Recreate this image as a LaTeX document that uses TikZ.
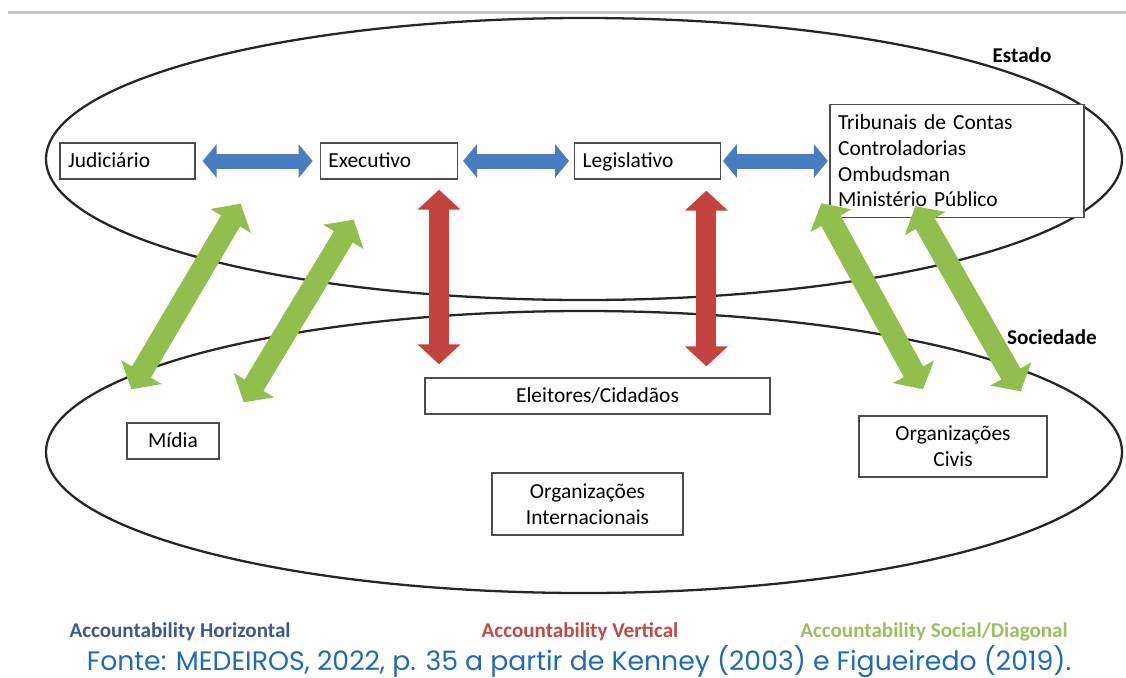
\documentclass[tikz,border=0pt]{standalone}
\usepackage{fontspec}
\setmainfont{Carlito}
\newfontfamily\fontecap{Poppins}
\usetikzlibrary{positioning, calc, arrows.meta}

\definecolor{azul}{HTML}{4A7DBF}
\definecolor{vermelho}{HTML}{C5433F}
\definecolor{verde}{HTML}{92BE4E}
\definecolor{azulleg}{HTML}{3B5A8C}
\definecolor{vermleg}{HTML}{C24A46}
\definecolor{verdeleg}{HTML}{9DBE62}
\definecolor{azulfonte}{HTML}{1E6AB6}

\tikzset{
    caixa/.style={draw=black!70, line width=0.8pt, fill=white,
        font=\fontsize{12.2}{14.6}\selectfont,
        minimum height=0.72cm, inner xsep=0.16cm, inner ysep=0pt},
    linha/.style={text height=0.85em, text depth=0.1em},
    esfera/.style={draw=black!85, line width=1.3pt},
    rotulo/.style={font=\fontsize{12}{14}\selectfont\bfseries},
    horiz/.style={azul, line width=0.3cm,
        {Triangle[length=0.28cm, width=0.66cm]}-{Triangle[length=0.28cm, width=0.66cm]}},
    vert/.style={vermelho, line width=0.4cm,
        {Triangle[length=0.4cm, width=0.84cm]}-{Triangle[length=0.4cm, width=0.84cm]}},
    diag/.style={verde, line width=0.44cm,
        {Triangle[length=0.4cm, width=0.92cm]}-{Triangle[length=0.4cm, width=0.92cm]}}
}

\begin{document}
\begin{tikzpicture}[x=0.02cm, y=-0.02cm]
\useasboundingbox (0,0) rectangle (1126,677);

\draw[gray!45, line width=0.06cm] (8,12) -- (1126,12);

% Estado e Sociedade
\draw[esfera] (584,159) ellipse [x radius=538, y radius=141];
\draw[esfera] (584,452) ellipse [x radius=538, y radius=141];

\node[rotulo] (estado) at (1022,55) {Estado};
\node[rotulo] (soc) at (1052,337) {Sociedade};

% poderes
\node[caixa, linha, text width=2.38cm, align=left] (jud) at (127.5,161) {Judiciário};
\node[caixa, linha, text width=2.42cm, align=left, right=2.48cm of jud] (exe) {Executivo};
\node[caixa, linha, text width=2.6cm, align=left, right=2.32cm of exe] (leg) {Legislativo};
\node[caixa, text width=4.76cm, align=left, minimum height=2.26cm,
    right=2.16cm of leg] (trib)
    {Tribunais de Contas\\Controladorias\\Ombudsman\\Ministério Público};

% sociedade
\node[caixa, linha, text width=6.58cm, align=center] (eleit) at (597.5,396) {Eleitores/Cidadãos};
\node[caixa, linha, text width=1.52cm, align=center] (midia) at (173,441) {Mídia};
\node[caixa, text width=3.5cm, align=center, minimum height=1.24cm] (orgint)
    at (587.5,504) {Organizações\\Internacionais};
\node[caixa, text width=3.44cm, align=center, minimum height=1.22cm] (civis)
    at (953,446.5) {Organizações\\Civis};

% horizontal
\draw[horiz, shorten <=0.14cm, shorten >=0.14cm] (jud.east) -- (jud.east -| exe.west);
\draw[horiz, shorten <=0.1cm, shorten >=0.1cm] (exe.east) -- (exe.east -| leg.west);
\draw[horiz, shorten <=0.03cm, shorten >=0.03cm] (leg.east) -- (leg.east -| trib.west);

% vertical
\coordinate (vexe) at ([xshift=-0.38cm]exe.south east);
\coordinate (vleg) at ([xshift=-0.3cm]leg.south east);
\draw[vert, shorten <=0.2cm, shorten >=0.26cm] (vexe) -- (vexe |- eleit.north);
\draw[vert, shorten <=0.22cm, shorten >=0.22cm] (vleg) -- (vleg |- eleit.north);

% social / diagonal
\draw[diag] ($(jud.south east)+(45,24)$) -- ($(midia.north west)+(5,-33)$);
\draw[diag] ($(exe.south west)+(34,40)$) -- ($(midia.north east)+(24,-20)$);
\draw[diag] ($(trib.south west)+(-8,-15)$) -- ($(civis.north)+(-30,-26)$);
\draw[diag] ($(trib.south west)+(86,-12)$) -- ($(civis.north east)+(-27,-24)$);

% legenda
\node[rotulo, text=azulleg] (lhoriz) at (180,632) {Accountability Horizontal};
\node[rotulo, text=vermleg] (lvert) at (580,632) {Accountability Vertical};
\node[rotulo, text=verdeleg] (ldiag) at (934,632) {Accountability Social/Diagonal};

\node[font=\fontecap\fontsize{15.2}{18}\selectfont, text=azulfonte, inner sep=0pt,
    anchor=base] (fonte) at (579,670)
    {Fonte: MEDEIROS, 2022, p. 35 a partir de Kenney (2003) e Figueiredo (2019).};
\end{tikzpicture}
\end{document}
